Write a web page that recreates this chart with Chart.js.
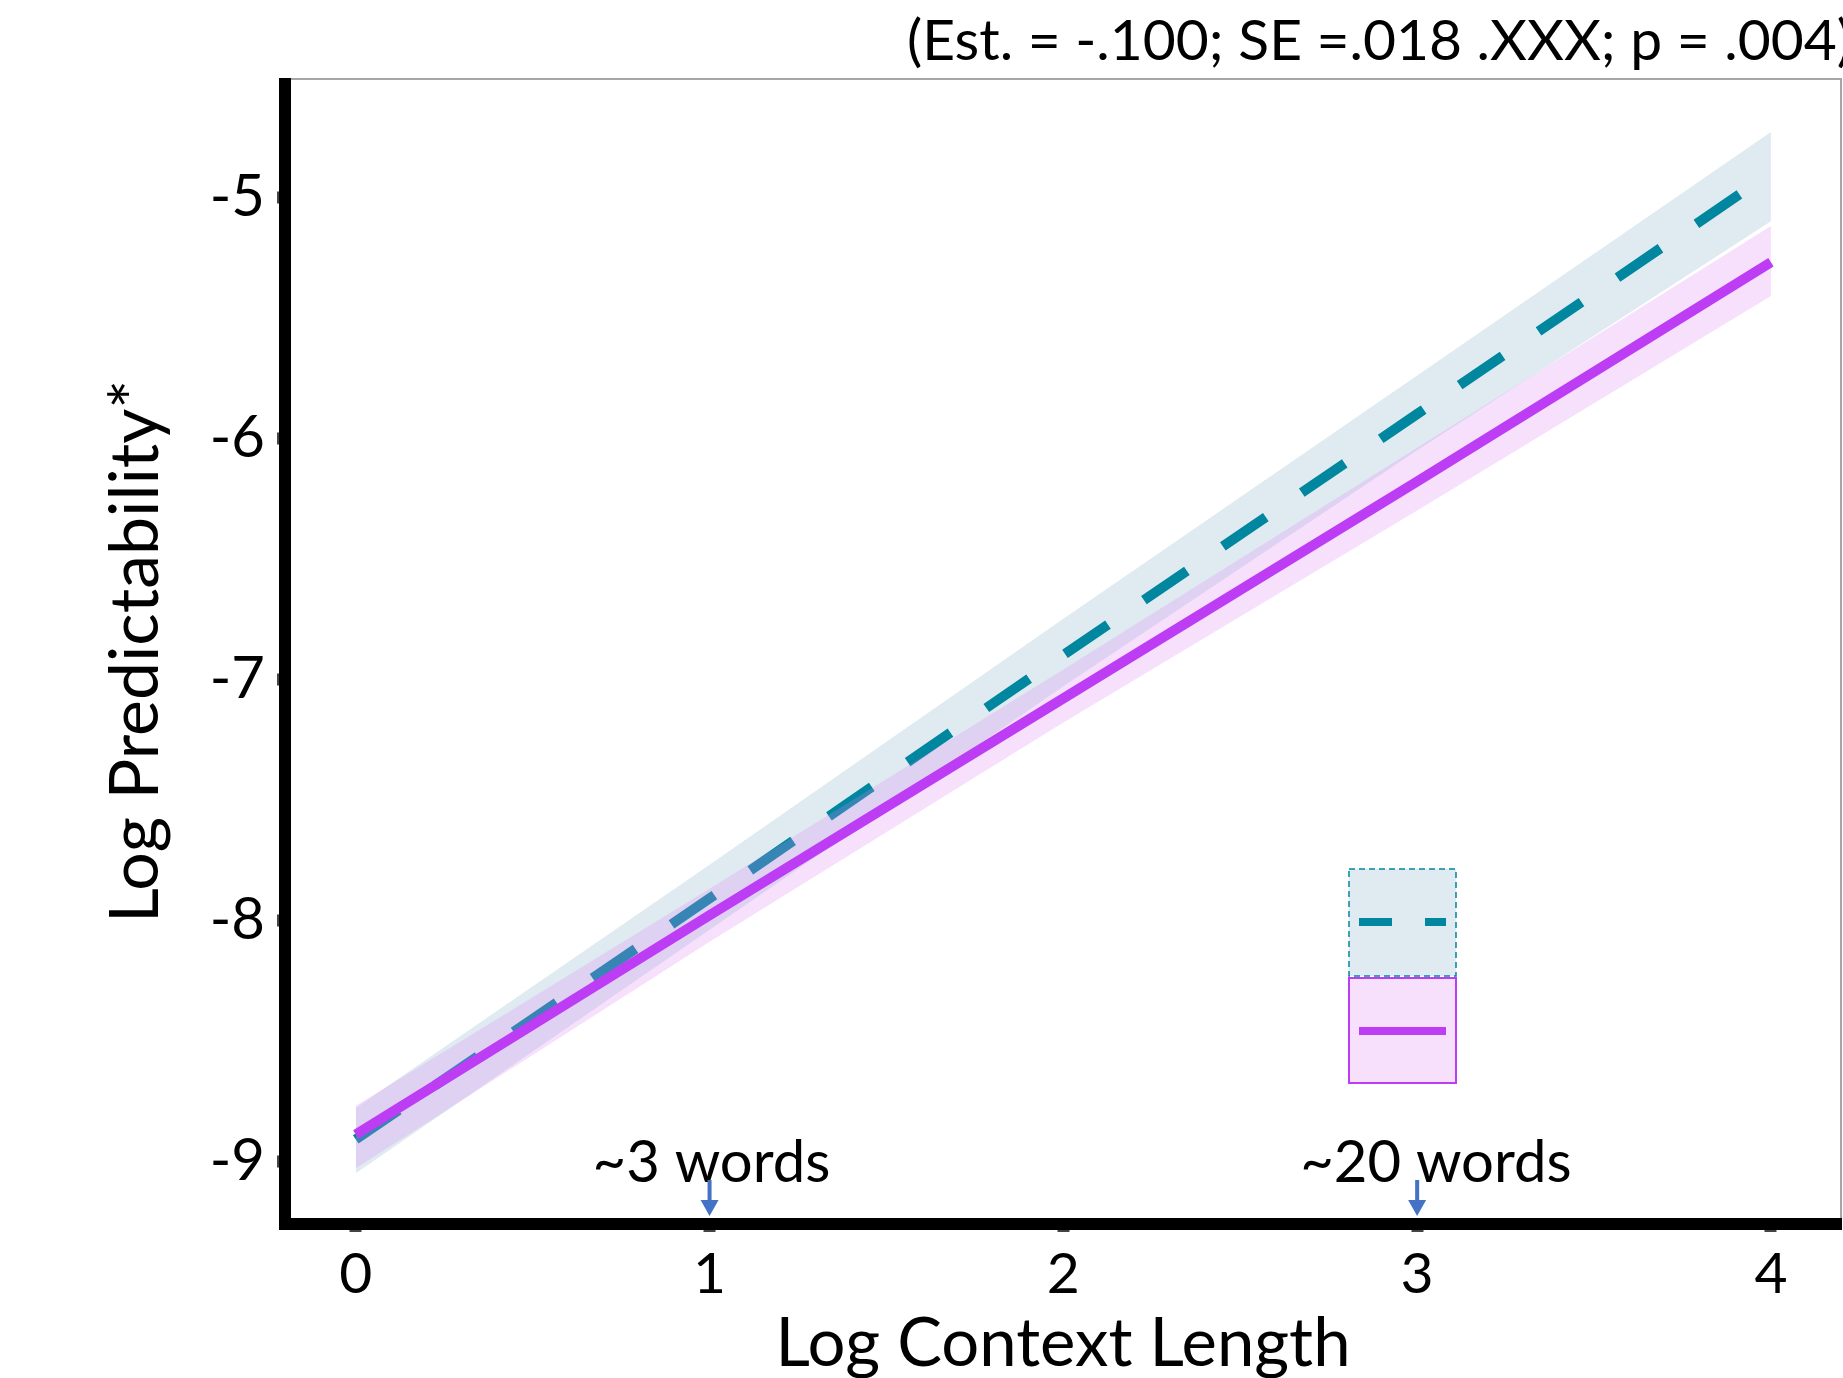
<!DOCTYPE html>
<html>
<head>
<meta charset="utf-8">
<script src="https://cdn.jsdelivr.net/npm/chart.js@4.4.1/dist/chart.umd.min.js"></script>
<style>
  html, body { margin: 0; padding: 0; background: #ffffff; }
  #wrap { width: 1843px; height: 1378px; }
</style>
</head>
<body>
<div id="wrap"><canvas id="chart" width="1843" height="1378"></canvas></div>
<script>
// Log context length values where the fitted lines are evaluated
const contextLength = [0, 1, 2, 3, 4];

// Dashed (teal) condition: fitted line and its confidence band
const tealFit   = [-8.91, -7.91, -6.90, -5.90, -4.90];
const tealUpper = [-8.78, -7.77, -6.75, -5.74, -4.73];
const tealLower = [-9.05, -8.04, -7.03, -6.05, -5.10];

// Solid (purple) condition: fitted line and its confidence band
const purpleFit   = [-8.89, -7.98, -7.08, -6.18, -5.27];
const purpleUpper = [-8.77, -7.87, -6.96, -6.04, -5.12];
const purpleLower = [-9.03, -8.09, -7.18, -6.30, -5.41];

// Axis ticks
const xTickValues = [0, 1, 2, 3, 4];
const yTickValues = [-9, -8, -7, -6, -5];

// Reference markers on the context-length axis
const markerX = [1, 3];
const markerLabels = ['~3 words', '~20 words'];

const statsText = '(Est. = -.100; SE =.018 .XXX; p = .004)';

const TEAL = '#00869F';
const PURPLE = '#BD3DF5';
const TEAL_BAND = 'rgba(150,190,210,0.3)';
const PURPLE_BAND = 'rgba(220,130,245,0.25)';
const FONT = 'Lato';

const pts = ys => contextLength.map((x, i) => ({ x: x, y: ys[i] }));

const bandEdge = (ys, fill, color, order) => ({
  data: pts(ys), fill: fill, backgroundColor: color,
  borderColor: 'transparent', borderWidth: 0, pointRadius: 0, order: order
});

// Frame, annotations, legend and the statistics line
const decorations = {
  id: 'decorations',
  afterDraw(chart) {
    const { ctx, chartArea: a, scales } = chart;
    const xs = scales.x;

    // keep the heavy left axis from poking above the frame
    ctx.save();
    ctx.fillStyle = '#ffffff';
    ctx.fillRect(a.left - 8, a.top - 8, 16, 7);
    ctx.restore();

    // thin frame on top and right
    ctx.save();
    ctx.strokeStyle = '#A6A6A6';
    ctx.lineWidth = 2;
    ctx.beginPath();
    ctx.moveTo(a.left + 6, a.top);
    ctx.lineTo(a.right, a.top);
    ctx.lineTo(a.right, a.bottom - 6);
    ctx.stroke();
    ctx.restore();

    // "~N words" labels with arrows
    ctx.save();
    ctx.font = '58px ' + FONT;
    ctx.fillStyle = '#000';
    ctx.textAlign = 'left';
    ctx.textBaseline = 'alphabetic';
    markerX.forEach((v, i) => {
      const px = xs.getPixelForValue(v);
      ctx.fillText(markerLabels[i], px - 117, a.bottom - 42);
    });
    ctx.fillStyle = '#4472C4';
    markerX.forEach(v => {
      const px = xs.getPixelForValue(v);
      ctx.fillRect(px - 2, a.bottom - 44, 4, 22);
      ctx.beginPath();
      ctx.moveTo(px - 9, a.bottom - 24);
      ctx.lineTo(px + 9, a.bottom - 24);
      ctx.lineTo(px, a.bottom - 8);
      ctx.closePath();
      ctx.fill();
    });
    ctx.restore();

    // legend keys
    ctx.save();
    const lx = 1349, lw = 107;
    ctx.fillStyle = TEAL_BAND;
    ctx.fillRect(lx, 869, lw, 107);
    ctx.setLineDash([6, 4]);
    ctx.strokeStyle = TEAL;
    ctx.lineWidth = 1.5;
    ctx.strokeRect(lx, 869, lw, 107);
    ctx.setLineDash([33, 33]);
    ctx.lineWidth = 8;
    ctx.beginPath();
    ctx.moveTo(lx + 10, 922);
    ctx.lineTo(lx + 97, 922);
    ctx.stroke();

    ctx.setLineDash([]);
    ctx.fillStyle = PURPLE_BAND;
    ctx.fillRect(lx, 978, lw, 105);
    ctx.strokeStyle = PURPLE;
    ctx.lineWidth = 2;
    ctx.strokeRect(lx, 978, lw, 105);
    ctx.lineWidth = 8;
    ctx.beginPath();
    ctx.moveTo(lx + 10, 1031);
    ctx.lineTo(lx + 97, 1031);
    ctx.stroke();
    ctx.restore();

    // statistics line above the plot
    ctx.save();
    ctx.font = '56px ' + FONT;
    ctx.fillStyle = '#000';
    ctx.textBaseline = 'alphabetic';
    const w = ctx.measureText(statsText).width;
    ctx.translate(907, 60);
    ctx.scale(945 / w, 1);
    ctx.fillText(statsText, 0, 0);
    ctx.restore();
  }
};

new Chart(document.getElementById('chart'), {
  type: 'line',
  data: {
    datasets: [
      bandEdge(tealUpper, '+1', TEAL_BAND, 3),
      bandEdge(tealLower, false, TEAL_BAND, 3),
      {
        data: pts(tealFit), borderColor: TEAL, borderWidth: 10,
        borderDash: [52, 43.5], borderCapStyle: 'butt',
        pointRadius: 0, fill: false, order: 2
      },
      bandEdge(purpleUpper, '+1', PURPLE_BAND, 1),
      bandEdge(purpleLower, false, PURPLE_BAND, 1),
      {
        data: pts(purpleFit), borderColor: PURPLE, borderWidth: 10,
        borderCapStyle: 'butt', pointRadius: 0, fill: false, order: 0
      }
    ]
  },
  options: {
    responsive: false,
    animation: false,
    devicePixelRatio: 1,
    layout: { padding: { left: 0, top: 79, right: 2, bottom: 0 } },
    plugins: { legend: { display: false }, tooltip: { enabled: false } },
    scales: {
      x: {
        type: 'linear', min: -0.2, max: 4.198,
        afterBuildTicks: s => { s.ticks = xTickValues.map(v => ({ value: v })); },
        afterFit: s => { s.height = 154; },
        border: { display: true, color: '#000', width: 12 },
        grid: { display: true, drawOnChartArea: false, drawTicks: true, tickLength: 8, tickWidth: 12, tickColor: '#444' },
        ticks: { font: { family: FONT, size: 57 }, color: '#000', padding: 8, maxRotation: 0, autoSkip: false },
        title: { display: true, text: 'Log Context Length', color: '#000',
                 font: { family: FONT, size: 67, lineHeight: 1 }, padding: { top: 0, bottom: 0 } }
      },
      y: {
        type: 'linear', min: -9.261, max: -4.510,
        afterBuildTicks: s => { s.ticks = yTickValues.map(v => ({ value: v })); },
        afterFit: s => { s.width = 285; },
        border: { display: true, color: '#000', width: 12 },
        grid: { display: true, drawOnChartArea: false, drawTicks: true, tickLength: 8, tickWidth: 12, tickColor: '#444' },
        ticks: { font: { family: FONT, size: 58 }, color: '#000', padding: 12, autoSkip: false },
        title: { display: true, text: 'Log Predictability*', color: '#000',
                 font: { family: FONT, size: 68, lineHeight: 1 }, padding: { top: 102, bottom: 0 } }
      }
    }
  },
  plugins: [decorations]
});
</script>
</body>
</html>
